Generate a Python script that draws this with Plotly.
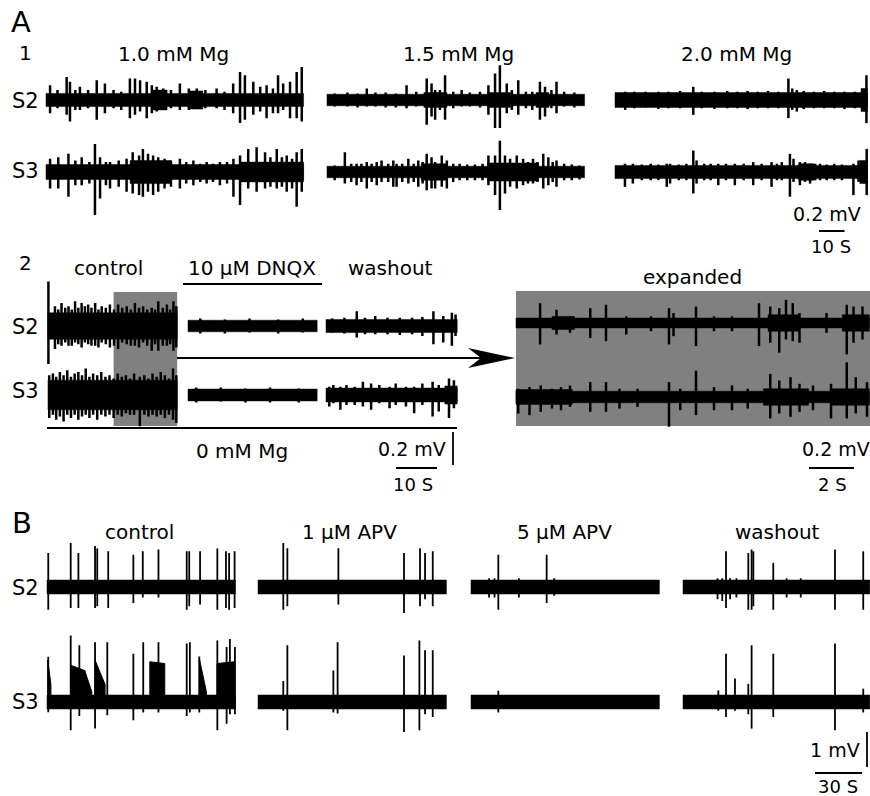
import plotly.graph_objects as go

W, H = 870, 796
FONT = "DejaVu Sans, Liberation Sans, Arial, sans-serif"
INK = "#000000"
GRAY = "#808080"

# ============================ DATA ============================
# spikes   : (time [s], upward deflection [mV], downward deflection [mV])
# bursts   : (t start [s], t end [s], half-width of thickened trace [mV])
# plateaus : (t start [s], t end [s], height at start [mV], height at end [mV])

# ---------- A1 : Mg2+ concentration series ----------
A1_conditions = ["1.0 mM Mg", "1.5 mM Mg", "2.0 mM Mg"]
A1_duration_s = [101, 101, 99]
A1_S2_noise_mV = [0.040, 0.035, 0.045]
A1_S3_noise_mV = [0.045, 0.035, 0.040]

A1_S2_10Mg = [(1.6, .09, .08), (4.5, .06, .05), (8.1, .14, .09), (9.4, .11, .13), (11.5, .06, .06),
              (13.3, .08, .06), (16.5, .06, .05), (19.9, .12, .12), (23.1, .10, .08), (26.5, .06, .05),
              (29.5, .05, .06), (32.9, .13, .11), (34.9, .13, .09), (36.9, .12, .07), (39.5, .11, .11),
              (41.5, .09, .08), (43.4, .08, .07), (46.0, .07, .06), (49.0, .06, .05), (52.5, .10, .06),
              (56.0, .07, .06), (59.1, .07, .05), (62.5, .06, .05), (66.9, .07, .05), (70.0, .05, .06),
              (73.4, .10, .08), (76.1, .17, .14), (78.0, .15, .12), (81.3, .11, .09), (84.0, .08, .07),
              (86.5, .09, .11), (89.0, .07, .08), (91.0, .15, .08), (93.0, .10, .06), (95.7, .11, .11),
              (98.3, .17, .11), (100.3, .20, .13)]
A1_S2_10Mg_bursts = [(42, 47.5, .06), (56.5, 61.5, .055)]

A1_S3_10Mg = [(1.6, .08, .10), (4.8, .09, .10), (8.8, .11, .15), (11.5, .07, .08), (14.0, .09, .08),
              (17.0, .06, .07), (19.2, .17, .26), (21.2, .09, .16), (23.5, .06, .08), (25.1, .06, .10),
              (28.5, .07, .09), (31.6, .08, .12), (34.0, .12, .13), (36.5, .10, .14), (38.0, .14, .15),
              (40.0, .11, .12), (42.0, .10, .14), (44.0, .09, .12), (46.5, .08, .10), (49.0, .07, .09),
              (52.5, .08, .10), (55.0, .06, .07), (57.8, .07, .08), (60.5, .05, .06), (63.0, .06, .07),
              (65.5, .05, .06), (68.2, .06, .08), (71.0, .06, .07), (73.5, .08, .15), (76.1, .10, .20),
              (79.3, .14, .10), (82.6, .15, .12), (85.9, .12, .10), (88.0, .09, .09), (90.5, .14, .10),
              (92.5, .09, .09), (94.4, .10, .12), (96.5, .08, .10), (98.3, .12, .21), (100.3, .14, .12)]
A1_S3_10Mg_bursts = [(33, 49, .07), (76, 101, .06)]

A1_S2_15Mg = [(3, .04, .04), (8, .045, .04), (12, .04, .045), (15.6, .07, .04), (19, .045, .04),
              (23, .045, .045), (27, .04, .045), (31.2, .09, .05), (35, .05, .04), (39.1, .13, .15),
              (41, .10, .10), (42.4, .06, .12), (44.3, .06, .06), (46.3, .15, .12), (49.5, .05, .05),
              (52.8, .06, .04), (56, .045, .04), (60, .05, .045), (63.3, .09, .09), (65.9, .16, .17),
              (67.8, .21, .17), (70.5, .10, .08), (72.5, .06, .06), (75, .12, .09), (78, .05, .05),
              (80.5, .05, .06), (83.5, .11, .12), (85.5, .08, .10), (88, .06, .05), (90, .11, .08),
              (93, .05, .04), (97, .045, .045)]
A1_S2_15Mg_bursts = [(38, 47, .045), (63, 72, .045), (82, 87, .045)]

A1_S3_15Mg = [(3, .04, .05), (7, .12, .07), (9.5, .05, .06), (11.6, .05, .08), (13.5, .05, .06),
              (15.6, .06, .10), (17.5, .05, .06), (19.5, .06, .08), (21.4, .07, .06), (24, .05, .06),
              (26, .07, .09), (27.3, .05, .09), (29.5, .05, .06), (31.9, .08, .07), (34, .05, .06),
              (35.8, .07, .09), (37.5, .06, .07), (39.1, .11, .11), (41, .09, .10), (42.4, .06, .10),
              (45, .10, .09), (47, .07, .10), (49.5, .05, .06), (52, .05, .05), (55, .045, .05),
              (58, .045, .05), (61, .05, .05), (63.3, .10, .08), (65.9, .10, .14), (67.8, .19, .23),
              (69.8, .10, .13), (71.8, .08, .09), (74.4, .10, .10), (76.9, .08, .08), (78.8, .06, .07),
              (80.8, .08, .07), (82.5, .06, .06), (84.8, .11, .10), (86.8, .09, .08), (88.5, .06, .06),
              (90, .07, .09), (93, .05, .05), (96, .045, .05), (99, .04, .045)]
A1_S3_15Mg_bursts = [(37, 47, .05), (63, 83, .055)]

A1_S2_20Mg = [(4, .05, .06), (7.5, .05, .05), (12, .05, .045), (17, .05, .055), (21, .05, .05),
              (25.5, .055, .05), (30.7, .08, .09), (34, .05, .05), (39, .05, .055), (44, .055, .05),
              (48, .05, .05), (52, .055, .055), (56, .05, .05), (60, .055, .05), (64, .05, .05),
              (68, .13, .11), (69.5, .07, .06), (71.3, .06, .07), (74, .055, .055), (78, .05, .05),
              (82, .055, .05), (86, .05, .05), (90, .05, .055), (94, .05, .05), (97, .06, .06),
              (98.6, .15, .14)]
A1_S2_20Mg_bursts = [(96.5, 99, .07)]

A1_S3_20Mg = [(3.9, .05, .09), (7, .05, .07), (10.5, .045, .05), (14, .05, .05), (17, .045, .05),
              (20.3, .05, .09), (21.6, .05, .07), (25, .045, .05), (28, .05, .05), (30.7, .13, .13),
              (32, .07, .07), (35, .05, .05), (37.5, .05, .05), (40.5, .05, .08), (43.5, .05, .05),
              (47, .05, .08), (50.5, .05, .05), (54.2, .06, .08), (57.5, .05, .05), (61.4, .06, .09),
              (63.5, .05, .05), (65.4, .06, .05), (68.6, .11, .15), (70, .08, .06), (72.5, .06, .08),
              (74.5, .06, .06), (76.5, .05, .07), (78.5, .05, .05), (80.4, .05, .05), (83, .045, .05),
              (86, .05, .05), (89, .045, .05), (93.5, .05, .14), (95.5, .07, .06), (98.7, .14, .14)]
A1_S3_20Mg_bursts = [(72, 78, .05), (96, 99, .07)]

# ---------- A2 : 0 mM Mg, DNQX ----------
A2_conditions = ["control", "10 \u03bcM DNQX", "washout"]
A2_duration_s = [31.5, 31.5, 32]
A2_S2_noise_mV = [0.080, 0.035, 0.040]
A2_S3_noise_mV = [0.090, 0.036, 0.042]
A2_expanded_window_s = (16.0, 31.5)   # part of control shown expanded

A2_S2_control = [(0.1, .27, .23), (1.7, .12, .14), (2.5, .10, .11), (3.3, .14, .12), (4.2, .11, .10),
                 (5.0, .12, .12), (5.8, .10, .12), (6.6, .15, .10), (7.4, .11, .11), (8.2, .14, .13),
                 (9.0, .12, .10), (9.8, .13, .11), (10.6, .11, .12), (11.5, .14, .12), (12.3, .10, .13),
                 (13.1, .12, .10), (14.1, .11, .11), (15.1, .13, .13), (16.1, .10, .12), (17.1, .13, .14),
                 (18.1, .11, .10), (19.2, .12, .11), (20.2, .10, .12), (21.2, .14, .12), (22.2, .11, .13),
                 (23.2, .12, .10), (24.2, .10, .12), (25.3, .11, .15), (26.1, .10, .11), (26.9, .15, .15),
                 (28.0, .11, .12), (29.0, .13, .12), (29.8, .10, .11), (30.6, .15, .15), (31.3, .12, .13)]
A2_S3_control = [(0.3, .12, .14), (1.2, .13, .12), (2.0, .11, .15), (2.9, .14, .13), (3.8, .12, .16),
                 (4.7, .15, .12), (5.6, .11, .14), (6.5, .13, .12), (7.4, .14, .15), (8.3, .12, .13),
                 (9.2, .16, .12), (10.1, .11, .14), (11.0, .13, .12), (12.0, .12, .15), (13.0, .14, .12),
                 (14.0, .11, .13), (15.0, .12, .12), (16.0, .10, .14), (17.0, .13, .12), (18.0, .11, .13),
                 (19.0, .12, .11), (20.0, .10, .12), (21.0, .13, .12), (22.4, .11, .19), (23.5, .12, .12),
                 (24.5, .10, .13), (25.5, .13, .12), (26.5, .11, .13), (27.5, .14, .12), (28.5, .12, .14),
                 (29.5, .10, .12), (30.5, .16, .15), (31.3, .12, .17)]
A2_S2_dnqx = [(3, .045, .045), (9, .04, .045), (15, .045, .04), (22, .04, .045), (28, .045, .04)]
A2_S3_dnqx = [(2, .045, .045), (8, .045, .04), (14, .04, .045), (20, .045, .045), (27, .04, .045)]
A2_S2_washout = [(1.5, .045, .04), (4.5, .05, .045), (7.5, .09, .07), (9.5, .05, .05), (12, .06, .05),
                 (15, .05, .05), (18, .05, .055), (21, .05, .05), (23.5, .055, .06), (26.2, .09, .11),
                 (28.6, .06, .10), (30.7, .08, .12), (31.6, .07, .06)]
A2_S3_washout = [(0.8, .05, .07), (1.8, .06, .05), (3.5, .05, .09), (5, .06, .06), (7, .05, .06),
                 (9, .08, .07), (11, .07, .09), (13, .06, .05), (15.5, .05, .08), (17, .07, .06),
                 (19.5, .05, .07), (21.5, .05, .11), (23.5, .07, .06), (26, .08, .13), (27.5, .06, .10),
                 (30, .10, .14), (31.2, .09, .08)]
A2_S3_washout_bursts = [(29, 32, .055)]

# expanded view
EXP_duration_s = 15.7
EXP_S2_noise_mV = 0.030
EXP_S3_noise_mV = 0.035
EXP_S2 = [(1.07, .12, .13), (1.8, .08, .07), (2.4, .04, .06), (3.3, .09, .09), (4.0, .11, .11),
          (4.9, .04, .07), (6.0, .04, .05), (6.8, .09, .13), (7.0, .06, .08), (8.0, .10, .14),
          (8.8, .04, .05), (9.6, .04, .05), (10.8, .12, .14), (11.3, .10, .12), (11.7, .09, .18),
          (12.0, .14, .10), (12.3, .12, .11), (12.6, .06, .12), (13.8, .06, .06), (14.7, .11, .19),
          (15.0, .10, .12), (15.4, .10, .10)]
EXP_S2_bursts = [(1.6, 2.6, .04), (11.2, 12.6, .05), (14.5, 15.7, .05)]
EXP_S3 = [(0.1, .05, .10), (0.6, .06, .11), (1.1, .07, .09), (1.6, .05, .07), (2.0, .06, .08),
          (2.4, .07, .06), (3.3, .09, .09), (4.0, .09, .09), (4.6, .05, .07), (5.4, .05, .06),
          (6.8, .09, .18), (7.3, .05, .08), (8.0, .16, .11), (8.8, .06, .08), (9.6, .07, .08),
          (10.3, .05, .07), (11.3, .14, .13), (11.7, .10, .10), (12.2, .12, .12), (12.6, .08, .09),
          (13.2, .07, .08), (14.0, .08, .13), (14.7, .21, .13), (15.1, .12, .10), (15.6, .09, .12)]
EXP_S3_bursts = [(0.0, 2.5, .045), (11.0, 13.0, .05), (14.0, 15.7, .05)]

# ---------- B : APV series ----------
B_conditions = ["control", "1 \u03bcM APV", "5 \u03bcM APV", "washout"]
B_duration_s = [120, 120, 120, 119]
B_noise_mV = 0.20

B_S2_control = [(0.8, .97, .65), (15.1, 1.26, .60), (20, .97, .60), (30.6, 1.17, .60), (32, 1.10, .55),
                (39, 1.02, .60), (55, .92, .46), (61, 1.02, .30), (71, 1.07, .30), (89, 1.02, .65),
                (90.6, 1.02, .55), (97.5, 1.02, .50), (108.5, 1.10, .65), (114, 1.02, .60),
                (116, .97, .65), (119.5, 1.02, .60)]
B_S3_control = [(0.8, 1.29, .29), (15.1, 1.90, .81), (20.6, 1.62, .40), (30.6, 1.71, .76), (38.4, 1.71, .38),
                (55, 1.38, .52), (61.3, 1.71, .30), (71, 1.71, .30), (89, 1.67, .40), (91, 1.71, .30),
                (97, 1.30, .30), (108.5, 1.76, .81), (114.4, 1.57, .62), (116.5, 1.80, .35),
                (119.7, 1.57, .35)]
B_S3_control_plateaus = [(0.5, 2.5, 1.20, 0.50), (15.1, 24.0, 1.05, 0.90), (24.0, 28.5, 0.90, 0.30),
                         (30.6, 37.0, 1.20, 0.50), (65.5, 75.0, 1.15, 1.10), (97.0, 101.5, 1.25, 0.30),
                         (108.3, 119.7, 1.10, 1.15)]
B_S2_apv1 = [(16.1, 1.26, .65), (18.7, 1.11, .55), (51.2, 1.11, .50), (93, .97, .74), (103.2, 1.11, .55),
             (106.4, .97, .35), (111.3, 1.02, .55)]
B_S3_apv1 = [(16.1, .60, .25), (18.7, 1.62, .81), (48, .90, .30), (50.7, 1.71, .33), (93, 1.33, .86),
             (102.8, 1.76, .81), (106.4, 1.48, .35), (111.3, 1.48, .43)]
B_S2_apv5 = [(11.5, .25, .30), (15, .25, .30), (17.4, .92, .65), (30.5, .25, .30), (48.2, .92, .46),
             (53, .25, .25)]
B_S3_apv5 = [(17.4, .32, .30)]
B_S2_washout = [(22, .25, .35), (25, .25, .40), (27.4, 1.02, .60), (30, .25, .35), (34, .25, .30),
                (41.6, .97, .65), (43.7, 1.07, .65), (44.8, 1.02, .55), (57.5, .69, .65), (66, .25, .30),
                (75, .25, .30), (96.8, 1.07, .65), (114.8, 1.02, .65)]
B_S3_washout = [(22.5, .33, .25), (27.4, 1.38, .43), (33.1, .67, .25), (41.6, .52, .35), (43.7, 1.62, .76),
                (57.5, 1.38, .43), (96.8, 1.67, .81), (114.8, .38, .30)]

# scale bars
A_scale_mV, A1_scale_s, A2_scale_s, EXP_scale_s = 0.2, 10, 10, 2
B_scale_mV, B_scale_s = 1, 30

# ============================ LAYOUT ============================
fig = go.Figure()
_n = [0]


def axes(ox, oy, x0, x1, y0, y1, sx, sy):
    """Create an invisible axis pair over a pixel box. Data origin at pixel (ox, oy);
    sx = pixels per second, sy = pixels per mV."""
    x0, x1 = max(0.0, x0), min(float(W), x1)
    y0, y1 = max(0.0, y0), min(float(H), y1)
    _n[0] += 1
    n = _n[0]
    sfx = "" if n == 1 else str(n)
    fig.update_layout({
        "xaxis" + sfx: dict(domain=[x0 / W, x1 / W], range=[(x0 - ox) / sx, (x1 - ox) / sx],
                            visible=False, fixedrange=True, anchor="y" + sfx),
        "yaxis" + sfx: dict(domain=[1 - y1 / H, 1 - y0 / H], range=[(oy - y1) / sy, (oy - y0) / sy],
                            visible=False, fixedrange=True, anchor="x" + sfx),
    })
    return "x" + sfx, "y" + sfx


def add_panel(start, center, dur, sx, sy, hh, noise, spikes, bursts=(), plateaus=(), lw=2.0):
    xa, ya = axes(start, center, start - 3, start + dur * sx + 3, center - hh, center + hh, sx, sy)
    common = dict(xaxis=xa, yaxis=ya, mode="lines", hoverinfo="skip", showlegend=False)
    # baseline noise band
    fig.add_trace(go.Scatter(x=[0, dur, dur, 0, 0], y=[-noise, -noise, noise, noise, -noise],
                             fill="toself", fillcolor=INK, line=dict(width=0.5, color=INK), **common))
    # thickened (bursting) stretches
    if bursts:
        bx, by = [], []
        for t0, t1, h in bursts:
            bx += [t0, t1, t1, t0, t0, None]
            by += [-h, -h, h, h, -h, None]
        fig.add_trace(go.Scatter(x=bx, y=by, fill="toself", fillcolor=INK,
                                 line=dict(width=0.5, color=INK), **common))
    if plateaus:
        px_, py_ = [], []
        for t0, t1, h0, h1 in plateaus:
            px_ += [t0, t0, t1, t1, t0, None]
            py_ += [0, h0, h1, 0, 0, None]
        fig.add_trace(go.Scatter(x=px_, y=py_, fill="toself", fillcolor=INK,
                                 line=dict(width=1, color=INK), **common))
    sx_, sy_ = [], []
    for t, up, dn in spikes:
        sx_ += [t, t, None]
        sy_ += [-dn, up, None]
    fig.add_trace(go.Scatter(x=sx_, y=sy_, line=dict(width=lw, color=INK), **common))
    return xa, ya


# ---- pixel geometry (layout only) ----
A_SY = 33 / 0.2          # px per mV in panel A
A1_SX, A2_SX, EXP_SX = 2.55, 4.1, 22.5
B_SY, B_SX = 35 / 1.0, 1.57

A1_starts = [46, 327, 615]
A1_rows = (100, 172)
A2_starts = [48, 188, 326]
A2_rows = (326, 395)
EXP_start, EXP_rows = 516, (323, 397)
B_starts = [47, 258, 471, 683]
B_rows = (587, 702)

# A1
A1_S2 = [A1_S2_10Mg, A1_S2_15Mg, A1_S2_20Mg]
A1_S3 = [A1_S3_10Mg, A1_S3_15Mg, A1_S3_20Mg]
A1_S2_b = [A1_S2_10Mg_bursts, A1_S2_15Mg_bursts, A1_S2_20Mg_bursts]
A1_S3_b = [A1_S3_10Mg_bursts, A1_S3_15Mg_bursts, A1_S3_20Mg_bursts]
for i in range(3):
    add_panel(A1_starts[i], A1_rows[0], A1_duration_s[i], A1_SX, A_SY, 48,
              A1_S2_noise_mV[i], A1_S2[i], A1_S2_b[i], lw=2.5)
    add_panel(A1_starts[i], A1_rows[1], A1_duration_s[i], A1_SX, A_SY, 48,
              A1_S3_noise_mV[i], A1_S3[i], A1_S3_b[i], lw=2.5)

# A2
A2_S2 = [A2_S2_control, A2_S2_dnqx, A2_S2_washout]
A2_S3 = [A2_S3_control, A2_S3_dnqx, A2_S3_washout]
A2_S3_b = [(), (), A2_S3_washout_bursts]
ctrl_axis = None
for i in range(3):
    xa, _ = add_panel(A2_starts[i], A2_rows[0], A2_duration_s[i], A2_SX, A_SY, 50,
                      A2_S2_noise_mV[i], A2_S2[i], lw=2.5)
    if i == 0:
        ctrl_axis = xa
    add_panel(A2_starts[i], A2_rows[1], A2_duration_s[i], A2_SX, A_SY, 50,
              A2_S3_noise_mV[i], A2_S3[i], A2_S3_b[i], lw=2.5)

exp_axis, _ = add_panel(EXP_start, EXP_rows[0], EXP_duration_s, EXP_SX, A_SY, 45,
                        EXP_S2_noise_mV, EXP_S2, EXP_S2_bursts, lw=2.5)
add_panel(EXP_start, EXP_rows[1], EXP_duration_s, EXP_SX, A_SY, 45,
          EXP_S3_noise_mV, EXP_S3, EXP_S3_bursts, lw=2.5)

# B
B_S2 = [B_S2_control, B_S2_apv1, B_S2_apv5, B_S2_washout]
B_S3 = [B_S3_control, B_S3_apv1, B_S3_apv5, B_S3_washout]
B_S3_p = [B_S3_control_plateaus, (), (), ()]
for i in range(4):
    add_panel(B_starts[i], B_rows[0], B_duration_s[i], B_SX, B_SY, 75, B_noise_mV, B_S2[i], lw=1.8)
    add_panel(B_starts[i], B_rows[1], B_duration_s[i], B_SX, B_SY, 75, B_noise_mV, B_S3[i],
              plateaus=B_S3_p[i], lw=1.8)


# ---- scale bars ----
def hbar(ox, oy, length, sx):
    xa, ya = axes(ox, oy, ox - 2, ox + length * sx + 2, oy - 3, oy + 3, sx, 1)
    fig.add_trace(go.Scatter(x=[0, length], y=[0, 0], xaxis=xa, yaxis=ya, mode="lines",
                             line=dict(width=1.8, color=INK), hoverinfo="skip", showlegend=False))


def vbar(ox, oy, length, sy):
    xa, ya = axes(ox, oy, ox - 3, ox + 3, oy - length * sy - 2, oy + 2, 1, sy)
    fig.add_trace(go.Scatter(x=[0, 0], y=[0, length], xaxis=xa, yaxis=ya, mode="lines",
                             line=dict(width=1.8, color=INK), hoverinfo="skip", showlegend=False))


hbar(819, 231, A1_scale_s, A1_SX)
hbar(396, 468, A2_scale_s, A2_SX)
vbar(453, 465, A_scale_mV, A_SY)
hbar(809, 468, EXP_scale_s, EXP_SX)
hbar(815, 773, B_scale_s, B_SX)
vbar(867, 767, B_scale_mV, B_SY)


# ---- shapes ----
def P(x, y):
    return x / W, 1 - y / H


shapes = []
# grey selection box on control, and grey background of the expanded view
shapes.append(dict(type="rect", xref=ctrl_axis, yref="paper", x0=A2_expanded_window_s[0],
                   x1=A2_expanded_window_s[1], y0=1 - 426 / H, y1=1 - 292 / H,
                   fillcolor=GRAY, line=dict(width=0), layer="below"))
shapes.append(dict(type="rect", xref=exp_axis, yref="paper", x0=0, x1=EXP_duration_s + 0.2,
                   y0=1 - 426 / H, y1=1 - 291 / H, fillcolor=GRAY, line=dict(width=0), layer="below"))
# arrow
ax0, ay0 = P(177, 358)
ax1, _ = P(482, 358)
shapes.append(dict(type="line", xref="paper", yref="paper", x0=ax0, x1=ax1, y0=ay0, y1=ay0,
                   line=dict(width=2, color=INK)))
tip, top, notch, bot = P(515, 358), P(468, 348), P(481, 358), P(468, 368)
shapes.append(dict(type="path", xref="paper", yref="paper",
                   path=f"M {tip[0]},{tip[1]} L {top[0]},{top[1]} L {notch[0]},{notch[1]} "
                        f"L {bot[0]},{bot[1]} Z", fillcolor=INK, line=dict(width=0)))
# DNQX application bar and 0 mM Mg bar
for (x0, x1, y) in [(183, 322, 284), (47, 457, 428)]:
    a, b = P(x0, y)
    c, _ = P(x1, y)
    shapes.append(dict(type="line", xref="paper", yref="paper", x0=a, x1=c, y0=b, y1=b,
                       line=dict(width=2, color=INK)))

# ---- texts ----
annots = []


def txt(s, x, y, size=20):
    px, py = P(x, y)
    annots.append(dict(text=s, x=px, y=py, xref="paper", yref="paper", showarrow=False,
                       xanchor="center", yanchor="middle", font=dict(family=FONT, size=size, color=INK)))


txt("A", 21, 22, 29)
txt("1", 25, 53, 20)
for s, x in zip(A1_conditions, [173, 458, 736]):
    txt(s, x, 54, 20)
for s, y in [("S2", 101), ("S3", 171), ("S2", 327), ("S3", 391), ("S2", 588), ("S3", 702)]:
    txt(s, 25, y, 21)
txt("0.2 mV", 827, 214, 19)
txt("10 S", 831, 246, 18)
txt("2", 25, 263, 20)
for s, x in zip(A2_conditions, [108, 252, 390]):
    txt(s, x, 268, 20)
txt("expanded", 692, 277, 20)
txt("0 mM Mg", 242, 451, 20)
txt("0.2 mV", 412, 449, 19)
txt("10 S", 413, 484, 18)
txt("0.2 mV", 836, 449, 19)
txt("2 S", 832, 485, 18)
txt("B", 22, 523, 29)
for s, x in zip(B_conditions, [139, 349, 564, 777]):
    txt(s, x, 532, 20)
txt("1 mV", 835, 750, 19)
txt("30 S", 838, 786, 18)

fig.update_layout(width=W, height=H, margin=dict(l=0, r=0, t=0, b=0),
                  paper_bgcolor="white", plot_bgcolor="rgba(0,0,0,0)",
                  shapes=shapes, annotations=annots, showlegend=False)

fig.write_html("out.html", config={"displayModeBar": False, "staticPlot": True},
               post_script="document.body.style.margin='0';document.body.style.overflow='hidden';")
